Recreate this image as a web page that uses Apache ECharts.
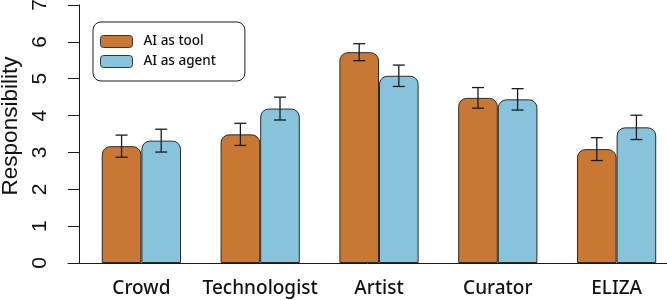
<!DOCTYPE html>
<html>
<head>
<meta charset="utf-8">
<script src="https://cdn.jsdelivr.net/npm/echarts@6/dist/echarts.min.js"></script>
<style>html,body{margin:0;padding:0;background:#fff}#c{width:667px;height:300px}</style>
</head>
<body>
<div id="c"></div>
<script>
const categories = ['Crowd', 'Technologist', 'Artist', 'Curator', 'ELIZA'];
const seriesNames = ['AI as tool', 'AI as agent'];
const toolMean = [3.17, 3.49, 5.72, 4.48, 3.09];
const toolErr = [0.30, 0.30, 0.23, 0.28, 0.31];
const agentMean = [3.32, 4.19, 5.08, 4.44, 3.68];
const agentErr = [0.31, 0.31, 0.29, 0.29, 0.33];
const yTicks = [0, 1, 2, 3, 4, 5, 6, 7];
const yTitle = 'Responsibility';

const ORANGE = '#C97834';
const BLUE = '#87C4DC';
const INK = '#1a1a1a';
const CAT_GAP = 0.333;

function errData(mean, err) {
  return mean.map((m, i) => [i, m - err[i], m + err[i]]);
}
function errRender(side) {
  return function (params, api) {
    const i = api.value(0);
    const cx = api.coord([i, 0])[0];
    const band = api.size([1, 0])[0];
    const bw = band * (1 - CAT_GAP) / 2;
    const x = cx + side * bw / 2;
    const y1 = api.coord([i, api.value(1)])[1];
    const y2 = api.coord([i, api.value(2)])[1];
    const hw = 6;
    const st = { stroke: INK, lineWidth: 1.3 };
    return {
      type: 'group',
      children: [
        { type: 'line', shape: { x1: x, y1: y1, x2: x, y2: y2 }, style: st },
        { type: 'line', shape: { x1: x - hw, y1: y1, x2: x + hw, y2: y1 }, style: st },
        { type: 'line', shape: { x1: x - hw, y1: y2, x2: x + hw, y2: y2 }, style: st }
      ]
    };
  };
}

const chart = echarts.init(document.getElementById('c'), null, { renderer: 'canvas' });
chart.setOption({
  animation: false,
  backgroundColor: '#fff',
  grid: [
    { left: 82, top: 5, width: 594, height: 258, outerBoundsMode: 'none', containLabel: false },
    { left: 68, top: 5, right: 0, height: 258, outerBoundsMode: 'none', containLabel: false },
    { left: 79, top: -3, width: 10, height: 258, outerBoundsMode: 'none', containLabel: false }
  ],
  legend: {
    orient: 'vertical',
    left: 93,
    top: 22,
    data: seriesNames,
    icon: 'roundRect',
    itemWidth: 32,
    itemHeight: 12,
    itemGap: 5,
    padding: [12, 29, 12, 7],
    borderColor: INK,
    borderWidth: 1,
    borderRadius: 8,
    textStyle: { fontFamily: 'Noto Sans', fontSize: 13.5, fontWeight: 500, color: '#111', padding: [0, 0, 0, 6], lineHeight: 15 },
    itemStyle: { borderColor: '#333', borderWidth: 1 }
  },
  xAxis: [
    {
      type: 'category',
      gridIndex: 0,
      data: categories,
      axisLine: { show: false },
      axisTick: { show: false },
      axisLabel: { interval: 0, margin: 16, fontFamily: 'Noto Sans', fontSize: 19, fontWeight: 500, color: '#111' }
    },
    {
      type: 'value',
      gridIndex: 1,
      min: 0, max: 1,
      axisLine: { show: true, lineStyle: { color: INK, width: 1 } },
      axisTick: { show: false },
      axisLabel: { show: false },
      splitLine: { show: false }
    },
    { type: 'value', gridIndex: 2, show: false }
  ],
  yAxis: [
    {
      type: 'value',
      gridIndex: 0,
      min: 0, max: 7, interval: 1,
      offset: 3,
      axisLine: { show: true, lineStyle: { color: INK, width: 1 } },
      axisTick: { show: true, length: 11, lineStyle: { color: INK, width: 1 } },
      axisLabel: {
        rotate: 90, margin: 28,
        fontFamily: 'Liberation Sans', fontSize: 21, color: '#111',
        formatter: v => (yTicks.indexOf(v) >= 0 ? String(v) : '')
      },
      splitLine: { show: false }
    },
    {
      type: 'value', gridIndex: 1, min: 0, max: 7, show: false
    },
    {
      type: 'value', gridIndex: 2, min: 0, max: 7,
      name: yTitle,
      nameLocation: 'middle',
      nameGap: 57,
      nameTextStyle: { fontFamily: 'Liberation Sans', fontSize: 22.5, color: '#111' },
      axisLine: { show: false },
      axisTick: { show: false },
      axisLabel: { show: false },
      splitLine: { show: false }
    }
  ],
  series: [
    {
      name: seriesNames[0], type: 'bar', xAxisIndex: 0, yAxisIndex: 0,
      data: toolMean, barGap: '0%', barCategoryGap: '33.3%',
      itemStyle: { color: ORANGE, borderColor: '#2a2a2a', borderWidth: 1, borderRadius: [8, 8, 0, 0] }
    },
    {
      name: seriesNames[1], type: 'bar', xAxisIndex: 0, yAxisIndex: 0,
      data: agentMean, barGap: '0%', barCategoryGap: '33.3%',
      itemStyle: { color: BLUE, borderColor: '#2a2a2a', borderWidth: 1, borderRadius: [8, 8, 0, 0] }
    },
    {
      type: 'custom', xAxisIndex: 0, yAxisIndex: 0, z: 5,
      data: errData(toolMean, toolErr), renderItem: errRender(-1),
      encode: { x: 0, y: [1, 2] }, silent: true
    },
    {
      type: 'custom', xAxisIndex: 0, yAxisIndex: 0, z: 5,
      data: errData(agentMean, agentErr), renderItem: errRender(1),
      encode: { x: 0, y: [1, 2] }, silent: true
    }
  ]
});
</script>
</body>
</html>
